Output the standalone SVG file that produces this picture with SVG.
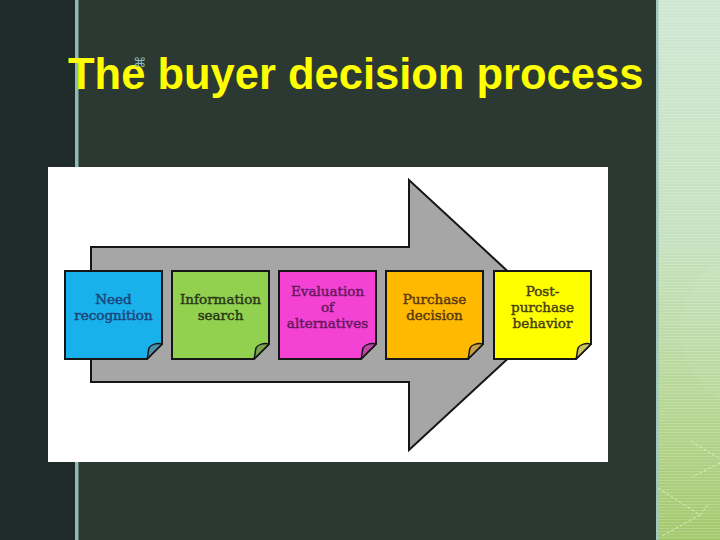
<svg xmlns="http://www.w3.org/2000/svg" width="720" height="540" viewBox="0 0 720 540">
  <defs>
    <linearGradient id="panel" x1="0" y1="0" x2="0" y2="1">
      <stop offset="0" stop-color="#cfe7d2"/>
      <stop offset="0.45" stop-color="#c6e1bf"/>
      <stop offset="0.75" stop-color="#b6d694"/>
      <stop offset="1" stop-color="#a4c86c"/>
    </linearGradient>
    <pattern id="stripes" width="4" height="3" patternUnits="userSpaceOnUse">
      <rect width="4" height="1" fill="#ffffff" opacity="0.18"/>
    </pattern>
    <style>
      .box { stroke: #161616; stroke-width: 2; stroke-linejoin: miter; }
      .fold { stroke: #161616; stroke-width: 1.5; stroke-linejoin: round; }
      .lbl { font-family: "DejaVu Serif", "Liberation Serif", serif; font-size: 13.5px; text-anchor: middle; stroke-width: 0.45px; }
      .deco { fill: none; stroke: #e8f4d0; stroke-width: 1; stroke-dasharray: 3 2; opacity: 0.8; }
    </style>
  </defs>

  <!-- background -->
  <rect x="0" y="0" width="720" height="540" fill="#2c3933"/>
  <rect x="0" y="0" width="75" height="540" fill="#1f2b28"/>
  <rect x="75" y="0" width="3.5" height="540" fill="#8fbab5"/>
  <rect x="656" y="0" width="64" height="540" fill="url(#panel)"/>
  <rect x="656" y="0" width="64" height="540" fill="url(#stripes)"/>
  <circle cx="760" cy="330" r="80" fill="#ffffff" opacity="0.05"/>
  <rect x="656" y="0" width="2.5" height="540" fill="#9fc9c2"/>
  <path class="deco" d="M691,441 L720,459 M720,463 L692,477 M658,488 L700,515 L708,505 M700,515 L662,536"/>

  <!-- title -->
  <text x="68" y="89" font-family="'Liberation Sans', Arial, sans-serif" font-weight="bold" font-size="43.5" fill="#ffff00">The buyer decision process</text>
  <text x="133" y="67" font-family="'DejaVu Sans', sans-serif" font-size="13" fill="#8cbcbc">⌘</text>

  <!-- picture -->
  <rect x="48" y="167" width="560" height="295" fill="#ffffff"/>

  <g id="connectors">
    <path id="big-arrow" d="M91,247 H409 V180 L555,315 L409,450 V382 H91 Z" fill="#a6a6a6" stroke="#161616" stroke-width="2" stroke-linejoin="miter"/>
  </g>

  <g id="need-recognition">
    <path class="box" d="M65,271 H162 V344 L147,359 H65 Z" fill="#19b1ec"/>
    <path class="fold" d="M162,344 C157,343 151,344 149,348 C148,352 148,356 147,359 Z" fill="#4a8fae"/>
    <text class="lbl" fill="#1b4478" stroke="#1b4478"><tspan x="113.5" y="304">Need</tspan><tspan x="113.5" y="320">recognition</tspan></text>
  </g>

  <g id="information-search">
    <path class="box" d="M172,271 H269 V344 L254,359 H172 Z" fill="#92d050"/>
    <path class="fold" d="M269,344 C264,343 258,344 256,348 C255,352 255,356 254,359 Z" fill="#7ba24c"/>
    <text class="lbl" fill="#283816" stroke="#283816"><tspan x="220.5" y="304">Information</tspan><tspan x="220.5" y="320">search</tspan></text>
  </g>

  <g id="evaluation-of-alternatives">
    <path class="box" d="M279,271 H376 V344 L361,359 H279 Z" fill="#f443d4"/>
    <path class="fold" d="M376,344 C371,343 365,344 363,348 C362,352 362,356 361,359 Z" fill="#c145a9"/>
    <text class="lbl" fill="#66185c" stroke="#66185c"><tspan x="327.5" y="296">Evaluation</tspan><tspan x="327.5" y="312">of</tspan><tspan x="327.5" y="328">alternatives</tspan></text>
  </g>

  <g id="purchase-decision">
    <path class="box" d="M386,271 H483 V344 L468,359 H386 Z" fill="#ffb900"/>
    <path class="fold" d="M483,344 C478,343 472,344 470,348 C469,352 469,356 468,359 Z" fill="#c9a145"/>
    <text class="lbl" fill="#5a3a10" stroke="#5a3a10"><tspan x="434.5" y="304">Purchase</tspan><tspan x="434.5" y="320">decision</tspan></text>
  </g>

  <g id="post-purchase-behavior">
    <path class="box" d="M494,271 H591 V344 L576,359 H494 Z" fill="#ffff00"/>
    <path class="fold" d="M591,344 C586,343 580,344 578,348 C577,352 577,356 576,359 Z" fill="#c9c565"/>
    <text class="lbl" fill="#464210" stroke="#464210"><tspan x="542.5" y="296">Post-</tspan><tspan x="542.5" y="312">purchase</tspan><tspan x="542.5" y="328">behavior</tspan></text>
  </g>
</svg>
